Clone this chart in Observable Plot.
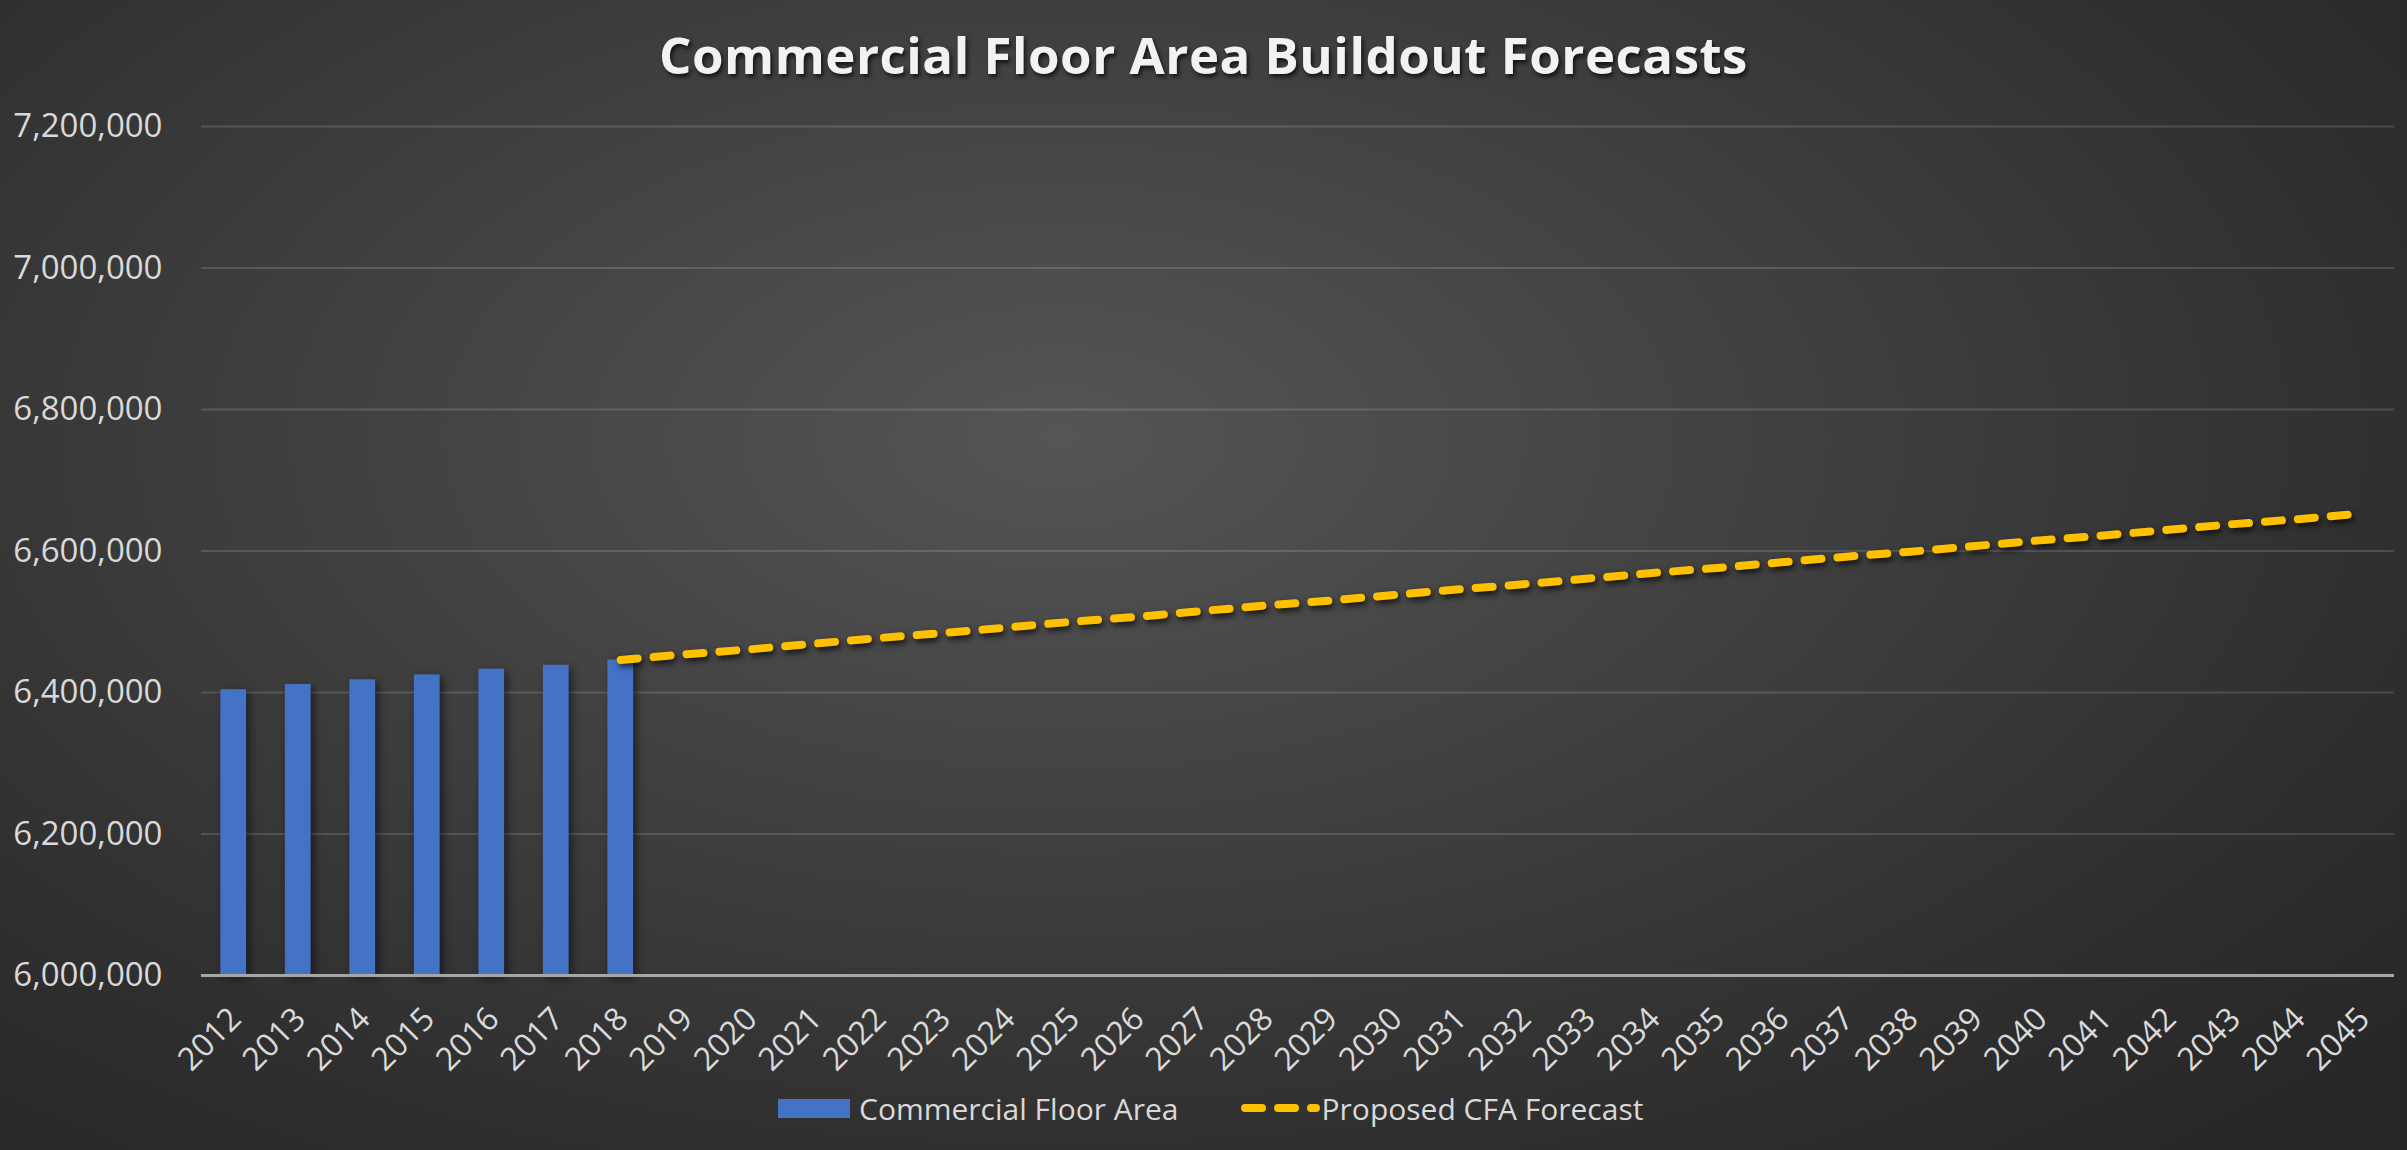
<!DOCTYPE html>
<html>
<head>
<meta charset="utf-8">
<script src="https://cdn.jsdelivr.net/npm/d3@7"></script>
<script src="https://cdn.jsdelivr.net/npm/@observablehq/plot@0.6"></script>
<style>
  html, body { margin: 0; padding: 0; }
  body { width: 2407px; height: 1150px; overflow: hidden; }
  #chart {
    position: relative; width: 2407px; height: 1150px;
    background: radial-gradient(ellipse 75% 85% at 44% 38%, #555555 0%, #434343 35%, #2f2f2f 75%, #262626 100%);
    font-family: "Open Sans", sans-serif;
  }
  #title {
    position: absolute; left: 0; top: 19px; width: 2407px; text-align: center;
    font-size: 51px; font-weight: 700; color: #f2f2f2; letter-spacing: 0.5px;
    text-shadow: 2px 3px 4px rgba(0,0,0,0.7);
  }
  #plot { position: absolute; left: 0; top: 0; }
  #legend {
    position: absolute; left: 778px; top: 1086px; height: 44px;
    display: flex; align-items: center; font-size: 30px; color: #d9d9d9;
  }
  #legend .sw { width: 72px; height: 19px; background: #4472C4; margin-right: 9px; }
</style>
</head>
<body>
<div id="chart">
  <div id="title">Commercial Floor Area Buildout Forecasts</div>
  <div id="plot"></div>
  <div id="legend">
    <div class="sw"></div><span>Commercial Floor Area</span>
    <svg width="79" height="20" style="margin-left:62px;margin-right:2px"><line x1="4" y1="10" x2="75" y2="10" stroke="#FFC000" stroke-width="8" stroke-linecap="round" stroke-dasharray="17,16"/></svg><span>Proposed CFA Forecast</span>
  </div>
</div>
<script>
// ---- data ----
const years = ["2012","2013","2014","2015","2016","2017","2018","2019","2020","2021","2022","2023","2024","2025","2026","2027","2028","2029","2030","2031","2032","2033","2034","2035","2036","2037","2038","2039","2040","2041","2042","2043","2044","2045"];
const cfaYears = ["2012","2013","2014","2015","2016","2017","2018"];
const cfaValues = [6404000, 6411500, 6418000, 6425000, 6433000, 6438500, 6446000];
const forecastYears = ["2018","2019","2020","2021","2022","2023","2024","2025","2026","2027","2028","2029","2030","2031","2032","2033","2034","2035","2036","2037","2038","2039","2040","2041","2042","2043","2044","2045"];
const forecastValues = [6446000, 6454000, 6461000, 6469000, 6477000, 6484000, 6492000, 6500000, 6507000, 6515000, 6523000, 6530000, 6538000, 6546000, 6553000, 6561000, 6569000, 6576000, 6584000, 6592000, 6599000, 6607000, 6615000, 6622000, 6630000, 6638000, 6645000, 6653000];
const yTicks = [6000000, 6200000, 6400000, 6600000, 6800000, 7000000, 7200000];

const cfa = cfaYears.map((y, i) => ({year: y, value: cfaValues[i]}));
const forecast = forecastYears.map((y, i) => ({year: y, value: forecastValues[i]}));

const plot = Plot.plot({
  width: 2407,
  height: 1080,
  marginTop: 126,
  marginBottom: 105,
  marginLeft: 201,
  marginRight: 13,
  style: {background: "transparent", fontFamily: "Open Sans, sans-serif", overflow: "visible"},
  x: {type: "band", domain: years, paddingInner: 0.6, paddingOuter: 0.3, round: false, label: null},
  y: {domain: [6000000, 7200000], label: null},
  marks: [
    Plot.ruleY(yTicks.slice(1), {stroke: "#ffffff", strokeOpacity: 0.14, strokeWidth: 2}),
    Plot.barY(cfa, {x: "year", y1: 6000000, y2: "value", fill: "#4472C4"}),
    Plot.ruleY([6000000], {stroke: "#a6a6a6", strokeWidth: 3}),
    Plot.line(forecast, {x: "year", y: "value", stroke: "#FFC000", strokeWidth: 8, strokeLinecap: "round", strokeDasharray: "17,16"}),
    Plot.axisY({ticks: yTicks, tickFormat: d3.format(","), tickSize: 0, tickPadding: 39, fontSize: 33, fill: "#d9d9d9", label: null}),
    Plot.axisX({tickRotate: -45, tickSize: 0, tickPadding: 22, dy: 16, dx: 2, fontSize: 32, fill: "#d9d9d9", label: null})
  ]
});
document.getElementById("plot").appendChild(plot);
d3.select(plot).selectAll('g[aria-label="line"]').style("filter", "drop-shadow(2px 3px 3px rgba(0,0,0,0.75))");
d3.select(plot).selectAll('g[aria-label="bar"]').style("filter", "drop-shadow(3px 3px 4px rgba(0,0,0,0.55))");
</script>
</body>
</html>
